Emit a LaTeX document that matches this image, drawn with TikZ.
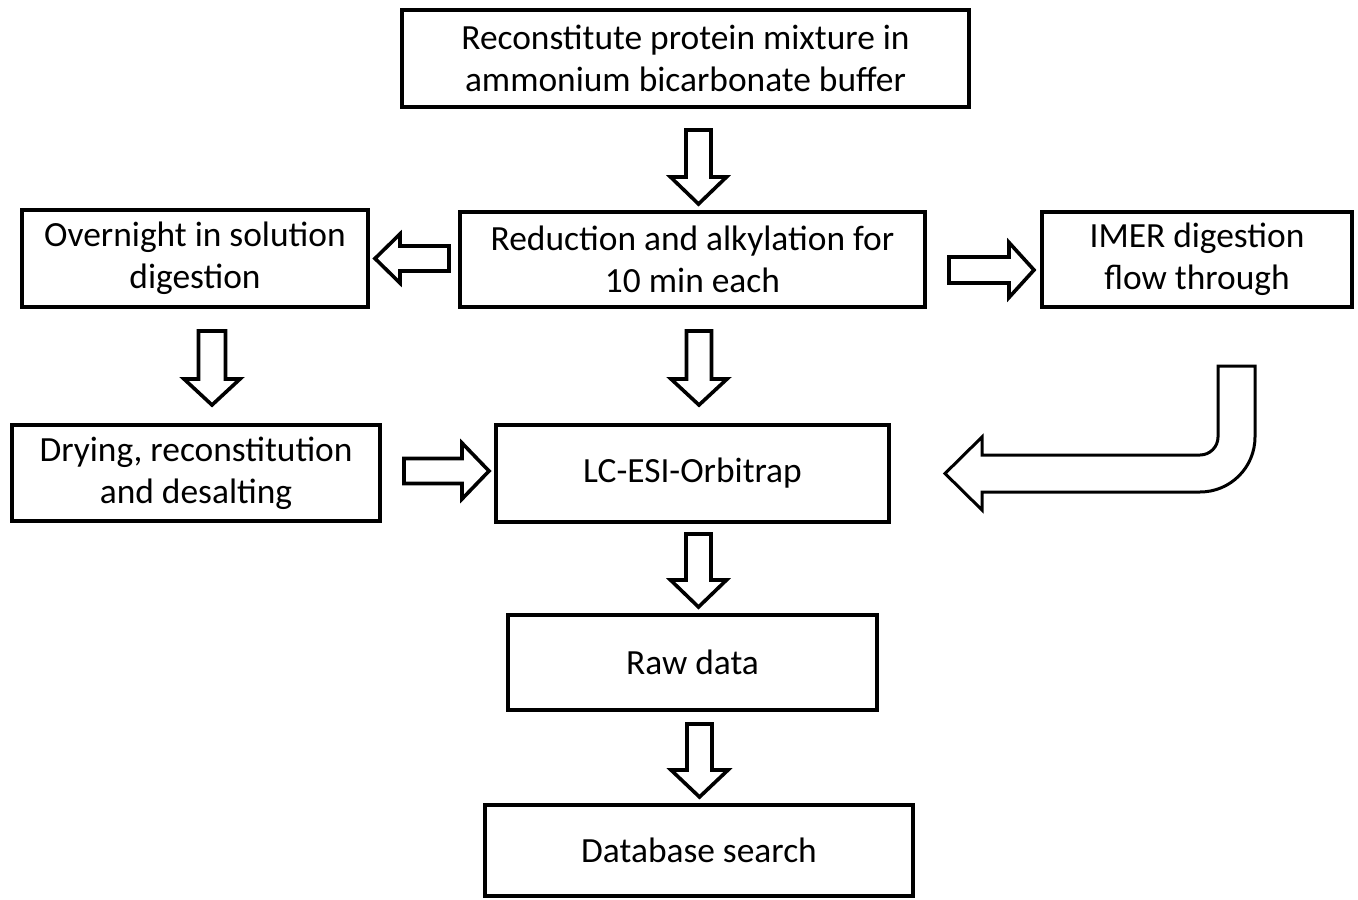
\documentclass[tikz,border=0pt]{standalone}
\usepackage{fontspec}
\setmainfont{Carlito}
\usetikzlibrary{calc}
\begin{document}
\begin{tikzpicture}[x=0.5pt,y=-0.5pt,
  box/.style={draw, line width=2pt, align=center, inner sep=0pt,
    font=\fontsize{17.7}{21}\selectfont},
  blk/.style={draw, line width=1.8pt, fill=white, line join=miter},
  % hollow block arrow: length, shaft half width, head half width, head length
  pics/blkarrow/.style n args={4}{code={
    \draw[blk] (0,-#2) -- ({#1-#4},-#2) -- ({#1-#4},-#3) -- (#1,0)
      -- ({#1-#4},#3) -- ({#1-#4},#2) -- (0,#2) -- cycle;}}
]
\useasboundingbox (0,0) rectangle (1358,899);

% process steps
\node[box, minimum width=283.5pt, minimum height=48.5pt] (recon) at (685.5,58.5)
  {Reconstitute protein mixture in\\ammonium bicarbonate buffer};
\node[box, minimum width=173pt, minimum height=48.5pt] (over) at (195,258.5)
  {Overnight in solution\\digestion};
\node[box, minimum width=232.5pt, minimum height=47.5pt] (red) at (692.5,259.5)
  {Reduction and alkylation for\\10 min each};
\node[box, minimum width=155pt, minimum height=47.5pt] (imer) at (1197,259.5)
  {IMER digestion\\flow through};
\node[box, minimum width=184pt, minimum height=48pt] (dry) at (196,473)
  {Drying, reconstitution\\and desalting};
\node[box, minimum width=196.5pt, minimum height=48.5pt] (lc) at (692.5,473.5)
  {LC-ESI-Orbitrap};
\node[box, minimum width=184.5pt, minimum height=47.5pt] (raw) at (692.5,662.5)
  {Raw data};
\node[box, minimum width=214pt, minimum height=45.5pt] (db) at (699,850.5)
  {Database search};

% block arrows between the steps
\path ($(recon.south)+(13,21)$) pic[rotate=-90] {blkarrow={74}{12.5}{28}{27}};
\path ($(red.west)+(-9,-1)$)    pic[rotate=180] {blkarrow={74}{12.5}{24.5}{25}};
\path ($(red.east)+(22,10.5)$)  pic            {blkarrow={85}{13}{27.5}{25}};
\path ($(over.south)+(17,22)$)  pic[rotate=-90] {blkarrow={74}{13.5}{28}{26}};
\path ($(red.south)+(6.5,22)$)  pic[rotate=-90] {blkarrow={74}{12.5}{28}{26}};
\path ($(dry.east)+(22,-2)$)    pic            {blkarrow={85}{12.5}{28}{27}};
\path ($(lc.south)+(6,10)$)     pic[rotate=-90] {blkarrow={73}{12.5}{28}{27}};
\path ($(raw.south)+(7,12)$)    pic[rotate=-90] {blkarrow={73}{12.5}{28.5}{27}};

% bent arrow from the IMER step into the LC step
\coordinate (bend) at ($(imer.south)+(39.5,57)$);
\draw[blk, line width=1.5pt, shift={(bend)}]
  (-18.5,0) -- (-18.5,71)
  .. controls (-18.5,80.9) and (-26.6,89) .. (-36.5,89)
  -- (-254.5,89) -- (-254.5,71) -- (-291.5,107.5) -- (-254.5,144)
  -- (-254.5,126) -- (-36.5,126)
  .. controls (-6.1,126) and (18.5,101.4) .. (18.5,71)
  -- (18.5,0) -- cycle;
\end{tikzpicture}
\end{document}
